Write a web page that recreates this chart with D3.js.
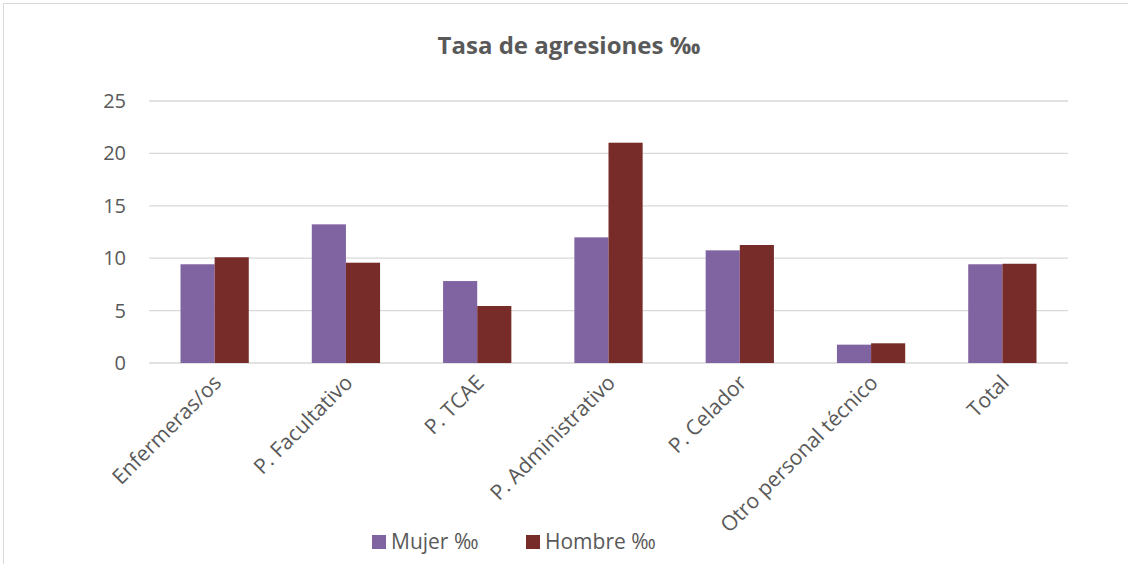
<!DOCTYPE html>
<html>
<head>
<meta charset="utf-8">
<script src="https://cdn.jsdelivr.net/npm/d3@7"></script>
<style>
  body { margin: 0; background: #fff; }
  text { font-family: "Open Sans", "Liberation Sans", sans-serif; fill: #595959; }
</style>
</head>
<body>
<script>
// categories and series
const categories = ["Enfermeras/os", "P. Facultativo", "P. TCAE", "P. Administrativo",
  "P. Celador", "Otro personal técnico", "Total"];
const mujer = [9.42, 13.23, 7.82, 11.99, 10.75, 1.75, 9.42];
const hombre = [10.09, 9.57, 5.44, 21.02, 11.26, 1.88, 9.47];
const seriesNames = ["Mujer ‰", "Hombre ‰"];
const yTicks = [0, 5, 10, 15, 20, 25];

const W = 1128, H = 564;
const margin = { top: 101, right: 60, bottom: 201, left: 149 },
  width = W - margin.left - margin.right,
  height = H - margin.top - margin.bottom;

const colors = ["#8064A2", "#772C2A"];

const svg = d3.select("body").append("svg")
  .attr("width", W).attr("height", H);

// chart border
svg.append("rect")
  .attr("x", 3.5).attr("y", 3.5).attr("width", W + 10).attr("height", H + 10)
  .attr("fill", "none").attr("stroke", "#D9D9D9").attr("stroke-width", 1);

svg.append("text")
  .attr("x", 569).attr("y", 54)
  .attr("text-anchor", "middle")
  .style("font-size", "24px").style("font-weight", "bold")
  .text("Tasa de agresiones ‰");

const g = svg.append("g")
  .attr("transform", "translate(" + margin.left + "," + margin.top + ")");

const x0 = d3.scaleBand().domain(categories).range([0, width]).paddingInner(0.48).paddingOuter(0.24);
const x1 = d3.scaleBand().domain([0, 1]).range([0, x0.bandwidth()]);
const y = d3.scaleLinear().domain([0, 25]).range([height, 0]);

// gridlines
g.append("g")
  .selectAll("line").data(yTicks).join("line")
  .attr("x1", 0).attr("x2", width)
  .attr("y1", d => y(d)).attr("y2", d => y(d))
  .attr("stroke", "#D9D9D9").attr("stroke-width", 1.3);

// y axis labels
const yAxis = g.append("g").call(d3.axisLeft(y).tickValues(yTicks).tickSize(0).tickPadding(23));
yAxis.select(".domain").remove();
yAxis.selectAll("text").style("font-size", "20px").attr("fill", "#595959");

// bars
const data = categories.map((c, i) => ({ cat: c, vals: [mujer[i], hombre[i]] }));
const groups = g.selectAll(".grp").data(data).join("g")
  .attr("transform", d => "translate(" + x0(d.cat) + ",0)");
groups.selectAll("rect").data(d => d.vals).join("rect")
  .attr("x", (d, i) => x1(i))
  .attr("y", d => y(d))
  .attr("width", x1.bandwidth())
  .attr("height", d => height - y(d))
  .attr("fill", (d, i) => colors[i]);

// x labels
g.selectAll(".xl").data(categories).join("text")
  .attr("text-anchor", "end")
  .style("font-size", "21px")
  .attr("transform", d => "translate(" + (x0(d) + x0.bandwidth() / 2 + 8) + "," + (height + 21) + ") rotate(-45)")
  .text(d => d);

// legend
const legendX = [372, 526];
const leg = svg.selectAll(".leg").data(seriesNames).join("g")
  .attr("transform", (d, i) => "translate(" + legendX[i] + ",535)");
leg.append("rect").attr("width", 14).attr("height", 14).attr("fill", (d, i) => colors[i]);
leg.append("text").attr("x", 19).attr("y", 14).style("font-size", "21px").text(d => d);
</script>
</body>
</html>
